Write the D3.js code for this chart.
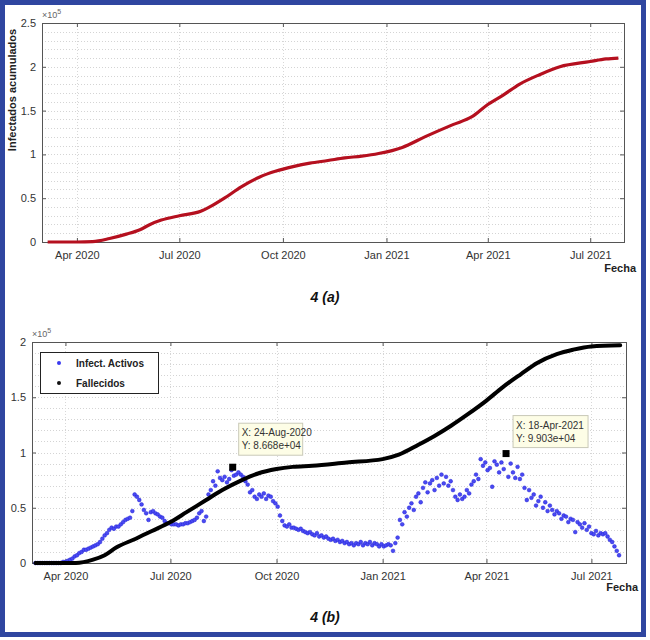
<!DOCTYPE html>
<html>
<head>
<meta charset="utf-8">
<script src="https://cdn.jsdelivr.net/npm/d3@7"></script>
<style>
    body { margin: 0; background: #fff; }
    svg { display: block; }
    text { font-family: "Liberation Sans", Arial, sans-serif; }
</style>
</head>
<body>
<svg id="chart" width="650" height="640"></svg>
<script>
// ---- data (values in units of 10^5) ----
const tickDates = ["2020-04-01", "2020-07-01", "2020-10-01", "2021-01-01", "2021-04-01", "2021-07-01"];

// 4(a) cumulative infected
const cumDates = ["2020-03-06", "2020-04-01", "2020-04-15", "2020-04-30", "2020-05-15", "2020-05-27", "2020-06-05",
    "2020-06-15", "2020-07-01", "2020-07-20", "2020-07-28", "2020-08-10", "2020-08-25", "2020-09-10", "2020-09-25",
    "2020-10-10", "2020-10-25", "2020-11-10", "2020-11-25", "2020-12-10", "2020-12-25", "2021-01-15", "2021-02-04",
    "2021-03-01", "2021-03-18", "2021-04-01", "2021-04-15", "2021-04-29", "2021-05-17", "2021-06-04", "2021-07-01",
    "2021-07-15", "2021-07-26"];
const cumValues = [0, 0, 0.005, 0.04, 0.09, 0.14, 0.2,
    0.25, 0.3, 0.35, 0.4, 0.5, 0.63, 0.74, 0.81,
    0.86, 0.9, 0.93, 0.96, 0.98, 1.01, 1.08, 1.2,
    1.34, 1.43, 1.57, 1.68, 1.8, 1.91, 2.0, 2.06,
    2.09, 2.1];

// 4(b) black curve
const deadDates = ["2020-03-06", "2020-04-10", "2020-04-25", "2020-05-05", "2020-05-15", "2020-06-01", "2020-06-15",
    "2020-07-01", "2020-07-15", "2020-08-01", "2020-08-15", "2020-09-01", "2020-09-15", "2020-10-01", "2020-10-15",
    "2020-11-01", "2020-12-01", "2021-01-01", "2021-01-15", "2021-02-01", "2021-02-15", "2021-03-01", "2021-03-15",
    "2021-04-01", "2021-04-15", "2021-05-01", "2021-05-15", "2021-06-01", "2021-06-15", "2021-07-01", "2021-07-26"];
const deadValues = [0, 0, 0.03, 0.07, 0.14, 0.22, 0.29,
    0.37, 0.46, 0.57, 0.66, 0.75, 0.81, 0.85, 0.87,
    0.88, 0.91, 0.94, 0.98, 1.07, 1.15, 1.24, 1.34,
    1.47, 1.59, 1.71, 1.81, 1.89, 1.93, 1.96, 1.97];

// 4(b) active infected, one value every 2 days from activeStart
const activeStart = "2020-03-06";
const activeStep = 2;
const activeValues = [
    0, 0, 0, 0, 0, 0, 0, 0, 0, 0, 0, 0,
    0.01, 0.01, 0.02, 0.03, 0.04, 0.06, 0.07, 0.09, 0.10, 0.12, 0.12, 0.13, 0.14, 0.15, 0.16, 0.17, 0.19, 0.22,
    0.25, 0.27, 0.30, 0.32, 0.31, 0.33, 0.33, 0.35, 0.37, 0.39, 0.40, 0.41, 0.47, 0.62, 0.60, 0.57, 0.53, 0.48,
    0.45, 0.39, 0.46, 0.47, 0.45, 0.44, 0.42, 0.41, 0.38, 0.36, 0.36, 0.35, 0.35, 0.35, 0.34, 0.35, 0.35, 0.36,
    0.36, 0.37, 0.38, 0.39, 0.41, 0.45, 0.47, 0.38, 0.42, 0.62, 0.66, 0.74, 0.70, 0.83, 0.77, 0.75, 0.78, 0.73,
    0.76, 0.84, 0.79, 0.80, 0.82, 0.80, 0.78, 0.74, 0.71, 0.64, 0.66, 0.60, 0.58, 0.62, 0.60, 0.63, 0.58, 0.61,
    0.60, 0.56, 0.54, 0.51, 0.43, 0.38, 0.34, 0.33, 0.35, 0.32, 0.32, 0.31, 0.30, 0.31, 0.29, 0.28, 0.27, 0.28,
    0.26, 0.25, 0.27, 0.24, 0.25, 0.23, 0.24, 0.22, 0.21, 0.22, 0.20, 0.21, 0.19, 0.20, 0.18, 0.19, 0.17, 0.18,
    0.16, 0.18, 0.17, 0.19, 0.16, 0.18, 0.17, 0.19, 0.16, 0.18, 0.17, 0.15, 0.17, 0.15, 0.16, 0.17, 0.16, 0.11,
    0.18, 0.23, 0.39, 0.35, 0.46, 0.42, 0.50, 0.54, 0.48, 0.60, 0.63, 0.55, 0.68, 0.73, 0.64, 0.72, 0.75, 0.66,
    0.77, 0.70, 0.80, 0.72, 0.78, 0.70, 0.74, 0.66, 0.60, 0.57, 0.62, 0.58, 0.60, 0.66, 0.63, 0.71, 0.74, 0.80,
    0.76, 0.94, 0.88, 0.91, 0.84, 0.86, 0.69, 0.92, 0.89, 0.82, 0.91, 0.85, 0.99, 0.78, 0.90, 0.82, 0.77, 0.87,
    0.76, 0.80, 0.68, 0.57, 0.66, 0.59, 0.62, 0.52, 0.56, 0.60, 0.50, 0.55, 0.47, 0.52, 0.48, 0.44, 0.47, 0.45,
    0.40, 0.43, 0.42, 0.37, 0.40, 0.39, 0.28, 0.37, 0.35, 0.32, 0.36, 0.30, 0.33, 0.27, 0.26, 0.29, 0.25, 0.27,
    0.26, 0.27, 0.24, 0.21, 0.19, 0.15, 0.11, 0.07
];

// data tips
const tipDates = ["2020-08-24", "2021-04-18"];
const tipLabels = ["24-Aug-2020", "18-Apr-2021"];
const tipValues = [86680, 99030];

// ---- helpers ----
const parse = d3.timeParse("%Y-%m-%d");
const svg = d3.select("#chart");
const axisColor = "#555";
const labelColor = "#333";

// Draws one MATLAB-like axes box and returns its scales
function drawAxes(box, yMax, yStep, xDomain) {
    const g = svg.append("g");
    const x = d3.scaleTime().domain(xDomain.map(parse)).range([box.left, box.right]);
    const y = d3.scaleLinear().domain([0, yMax]).range([box.bottom, box.top]);

    // minor horizontal grid
    const minor = d3.range(0, yMax + 1e-9, 0.1);
    g.selectAll(".hgrid").data(minor).enter().append("line")
        .attr("x1", box.left).attr("x2", box.right)
        .attr("y1", d => Math.round(y(d)) + 0.5).attr("y2", d => Math.round(y(d)) + 0.5)
        .attr("stroke", "#d4d4d4")
        .attr("stroke-dasharray", "1,2");

    // vertical grid at ticks
    const ticks = tickDates.map(parse);
    g.selectAll(".vgrid").data(ticks).enter().append("line")
        .attr("x1", d => Math.round(x(d)) + 0.5).attr("x2", d => Math.round(x(d)) + 0.5)
        .attr("y1", box.top).attr("y2", box.bottom)
        .attr("stroke", "#d8d8d8")
        .attr("stroke-dasharray", "1,2");

    const fmt = d => d3.format("~g")(d);

    const bottom = g.append("g")
        .attr("transform", `translate(0,${box.bottom})`)
        .call(d3.axisBottom(x).tickValues(ticks).tickSize(-4).tickPadding(9).tickFormat(d3.timeFormat("%b %Y")));
    const top = g.append("g")
        .attr("transform", `translate(0,${box.top})`)
        .call(d3.axisTop(x).tickValues(ticks).tickSize(-4).tickFormat(""));
    const left = g.append("g")
        .attr("transform", `translate(${box.left},0)`)
        .call(d3.axisLeft(y).tickValues(d3.range(0, yMax + 1e-9, yStep)).tickSize(-4).tickPadding(6).tickFormat(fmt));
    const right = g.append("g")
        .attr("transform", `translate(${box.right},0)`)
        .call(d3.axisRight(y).tickValues(d3.range(0, yMax + 1e-9, yStep)).tickSize(-4).tickFormat(""));

    [bottom, top, left, right].forEach(a => {
        a.select(".domain").remove();
        a.selectAll(".tick line").attr("stroke", axisColor);
        a.selectAll("text").attr("fill", labelColor).style("font-size", "11px");
    });

    g.append("rect")
        .attr("x", box.left + 0.5).attr("y", box.top + 0.5)
        .attr("width", box.right - box.left).attr("height", box.bottom - box.top)
        .attr("fill", "none")
        .attr("stroke", axisColor);

    // exponent label x10^5
    const ex = g.append("text")
        .attr("x", box.left).attr("y", box.top - 5)
        .attr("fill", "#666")
        .style("font-size", "9px")
        .text("×10");
    ex.append("tspan").attr("dy", -4).style("font-size", "7px").text("5");

    return { g, x, y };
}

// ---- 4(a) ----
const boxA = { left: 42, right: 624, top: 23, bottom: 242 };
const a = drawAxes(boxA, 2.5, 0.5, ["2020-03-01", "2021-07-31"]);

const cumData = cumDates.map((d, i) => ({ date: parse(d), v: cumValues[i] }));
a.g.append("path")
    .datum(cumData)
    .attr("fill", "none")
    .attr("stroke", "#b5101f")
    .attr("stroke-width", 3.2)
    .attr("stroke-linejoin", "round")
    .attr("d", d3.line().x(d => a.x(d.date)).y(d => a.y(d.v)).curve(d3.curveMonotoneX));

a.g.append("text")
    .attr("transform", "translate(16,90) rotate(-90)")
    .attr("text-anchor", "middle")
    .attr("fill", "#222")
    .style("font-size", "11px").style("font-weight", "bold")
    .text("Infectados acumulados");

a.g.append("text")
    .attr("x", 636).attr("y", 272)
    .attr("text-anchor", "end")
    .attr("fill", "#222")
    .style("font-size", "11px").style("font-weight", "bold")
    .text("Fecha");

svg.append("text")
    .attr("x", 325).attr("y", 302)
    .attr("text-anchor", "middle")
    .attr("fill", "#111")
    .style("font-size", "14px").style("font-weight", "bold").style("font-style", "italic")
    .text("4 (a)");

// ---- 4(b) ----
const boxB = { left: 32, right: 626, top: 342, bottom: 563 };
const b = drawAxes(boxB, 2, 0.5, ["2020-03-03", "2021-07-31"]);

const deadData = deadDates.map((d, i) => ({ date: parse(d), v: deadValues[i] }));
const startDate = parse(activeStart);
const activeData = activeValues.map((v, i) => ({ date: d3.timeDay.offset(startDate, i * activeStep), v }));

b.g.append("g").selectAll("circle")
    .data(activeData)
    .enter()
    .append("circle")
    .attr("cx", d => b.x(d.date))
    .attr("cy", d => b.y(d.v))
    .attr("r", 1.9)
    .attr("fill", "#4a4af2")
    .attr("stroke", "#2323d6")
    .attr("stroke-width", 0.5);

b.g.append("path")
    .datum(deadData)
    .attr("fill", "none")
    .attr("stroke", "#000")
    .attr("stroke-width", 4)
    .attr("stroke-linecap", "round")
    .attr("stroke-linejoin", "round")
    .attr("d", d3.line().x(d => b.x(d.date)).y(d => b.y(d.v)).curve(d3.curveMonotoneX));

// data tips
const tipBoxes = [{ dx: 6, dy: -44, w: 64 }, { dx: 7, dy: -38, w: 75 }];
tipDates.forEach((d, i) => {
    const px = b.x(parse(d));
    const py = b.y(tipValues[i] / 1e5);
    b.g.append("rect")
        .attr("x", px - 3.5).attr("y", py - 3.5)
        .attr("width", 7).attr("height", 7)
        .attr("fill", "#000");
    const bx = px + tipBoxes[i].dx;
    const by = py + tipBoxes[i].dy;
    b.g.append("rect")
        .attr("x", bx).attr("y", by)
        .attr("width", tipBoxes[i].w).attr("height", 32)
        .attr("fill", "#fdfde6")
        .attr("stroke", "#c9c9b8");
    b.g.append("text")
        .attr("x", bx + 3).attr("y", by + 13)
        .attr("fill", "#333").style("font-size", "10px")
        .text(`X: ${tipLabels[i]}`);
    b.g.append("text")
        .attr("x", bx + 3).attr("y", by + 26)
        .attr("fill", "#333").style("font-size", "10px")
        .text(`Y: ${d3.format(".3e")(tipValues[i]).replace("e+", "e+0")}`);
});

// legend
const legend = b.g.append("g");
legend.append("rect")
    .attr("x", 40.5).attr("y", 352.5)
    .attr("width", 118).attr("height", 41)
    .attr("fill", "#fff")
    .attr("stroke", "#222");
[["Infect. Activos", "#3a3af0", 364], ["Fallecidos", "#111", 384]].forEach(([label, color, ly]) => {
    legend.append("circle").attr("cx", 59).attr("cy", ly - 1).attr("r", 2).attr("fill", color);
    legend.append("text")
        .attr("x", 76).attr("y", ly + 3)
        .attr("fill", "#222")
        .style("font-size", "10px").style("font-weight", "bold")
        .text(label);
});

b.g.append("text")
    .attr("x", 638).attr("y", 591)
    .attr("text-anchor", "end")
    .attr("fill", "#222")
    .style("font-size", "11px").style("font-weight", "bold")
    .text("Fecha");

svg.append("text")
    .attr("x", 325).attr("y", 622)
    .attr("text-anchor", "middle")
    .attr("fill", "#111")
    .style("font-size", "14px").style("font-weight", "bold").style("font-style", "italic")
    .text("4 (b)");

// outer frame (drawn last so it sits on top)
svg.append("rect")
    .attr("x", 2.5).attr("y", 2.5)
    .attr("width", 641).attr("height", 632)
    .attr("fill", "none")
    .attr("stroke", "#2f46a0")
    .attr("stroke-width", 5);
</script>
</body>
</html>
